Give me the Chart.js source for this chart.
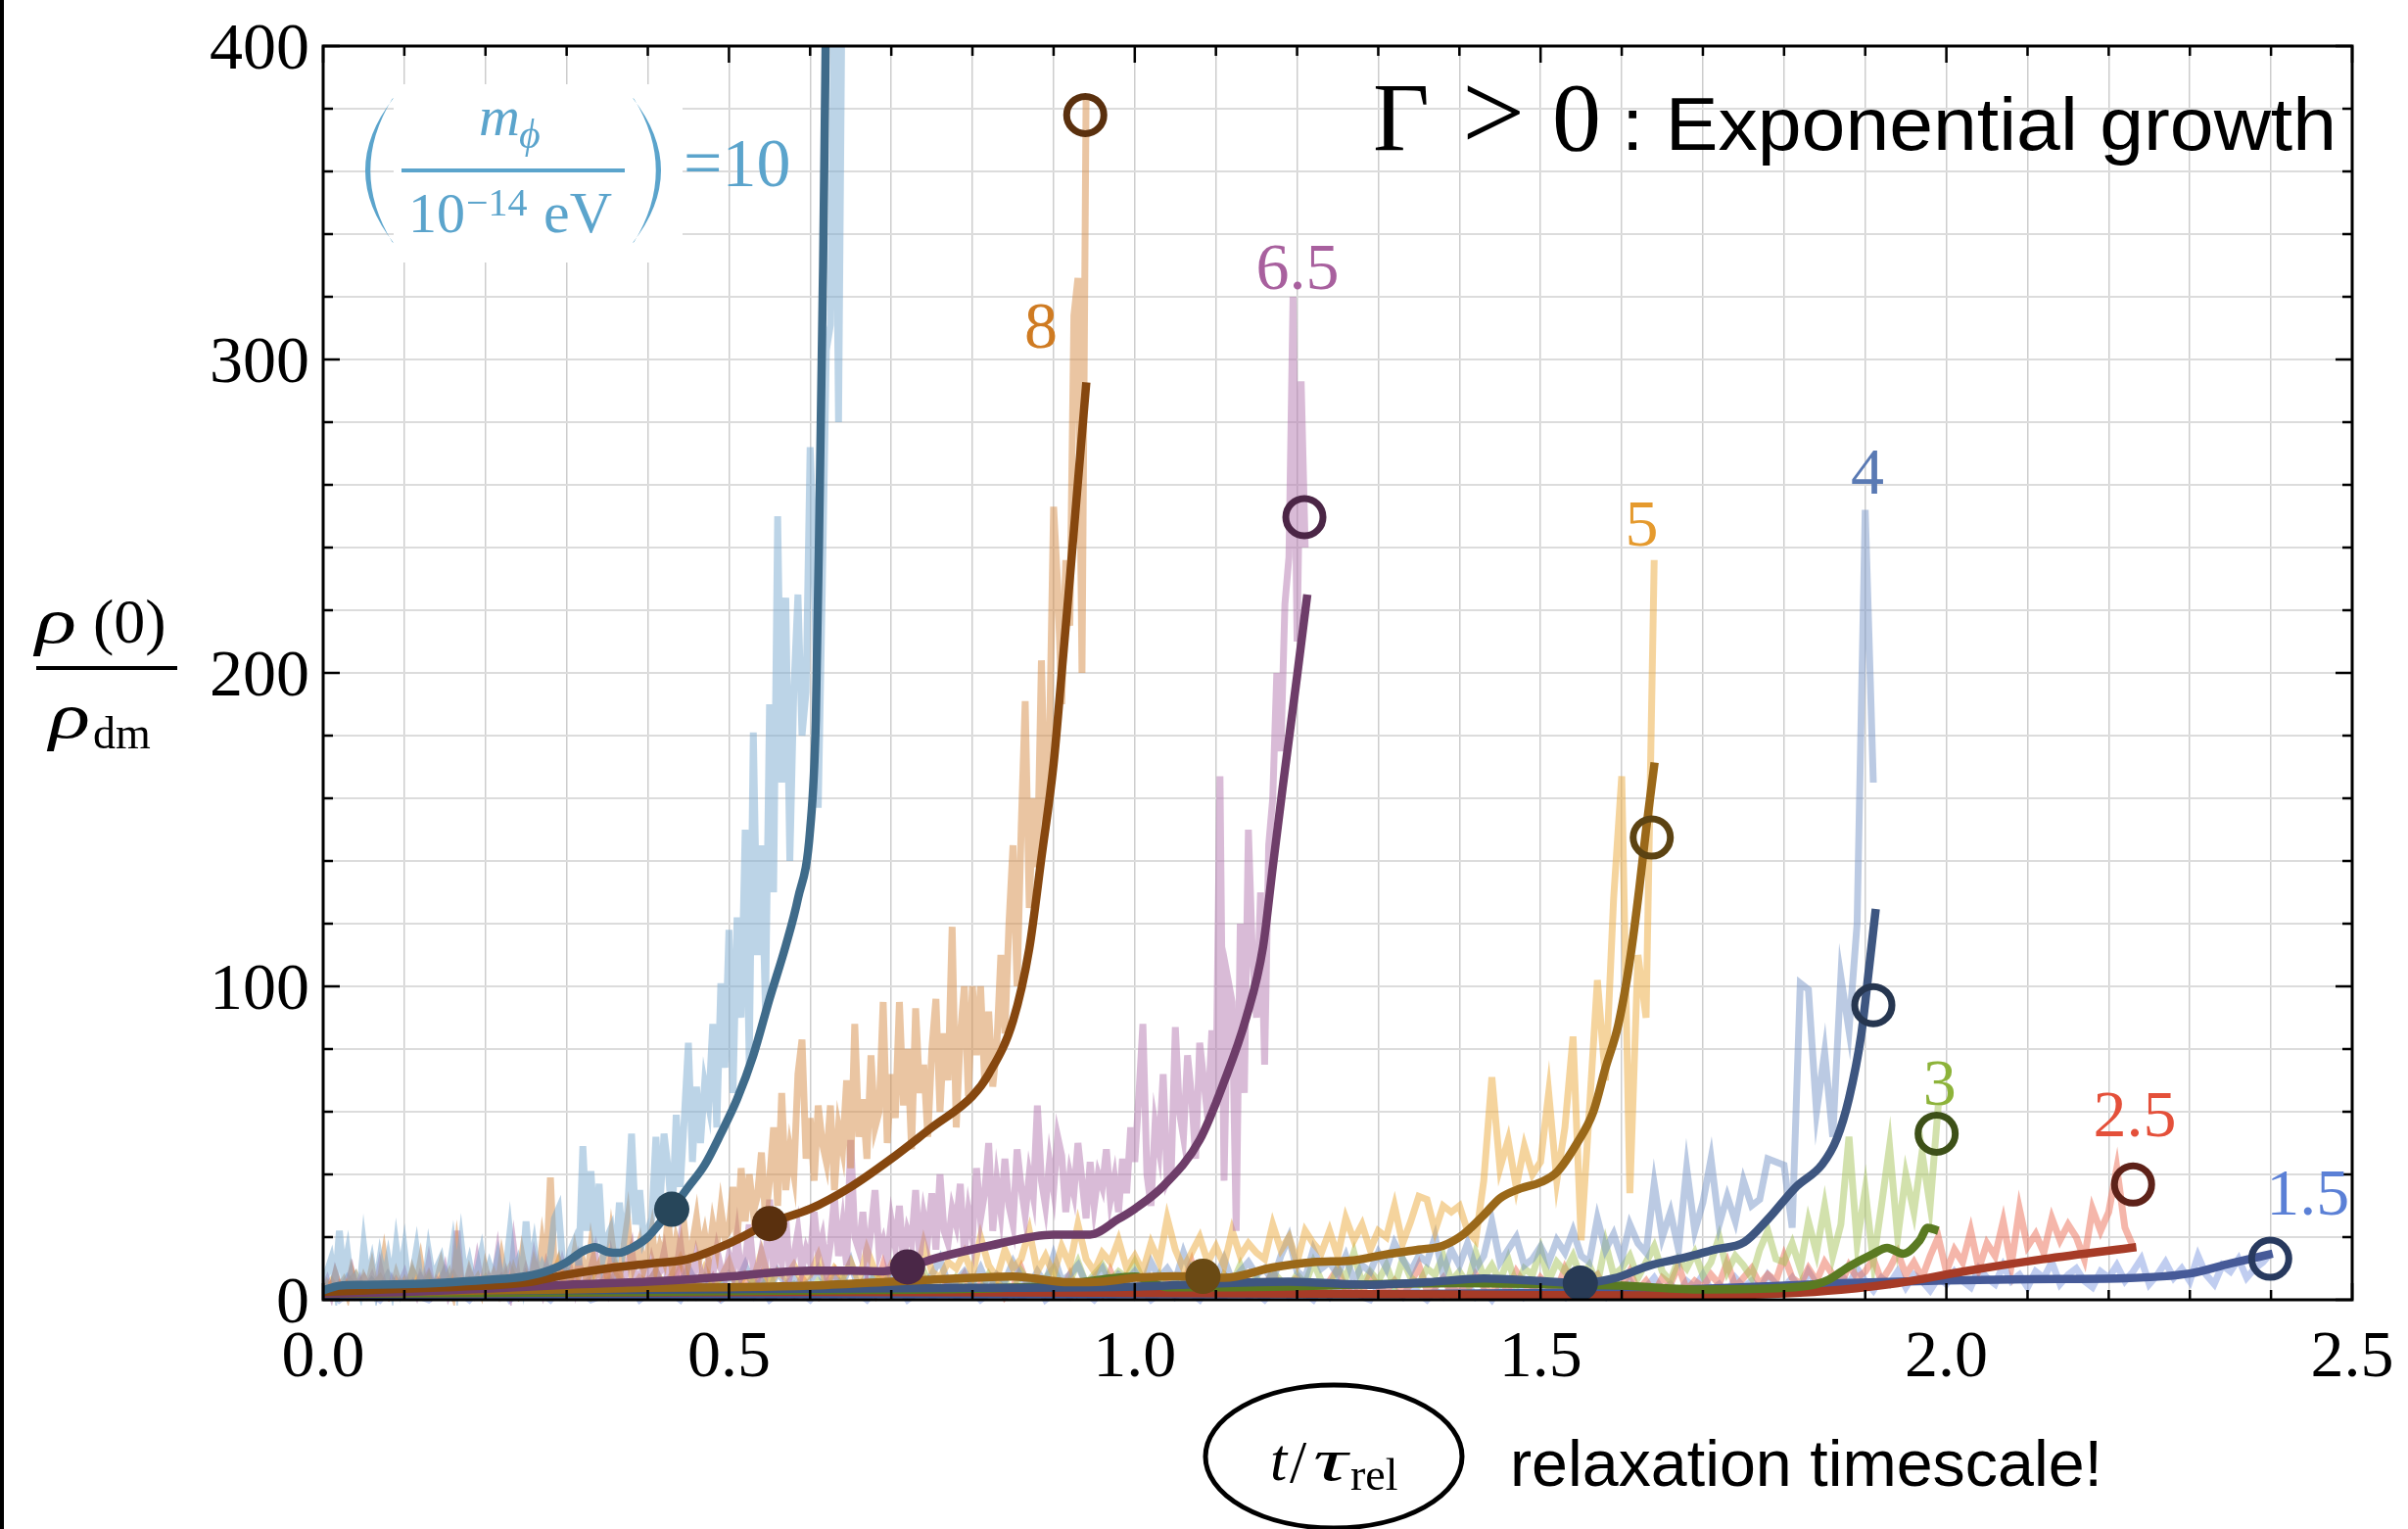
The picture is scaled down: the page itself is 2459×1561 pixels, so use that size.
<!DOCTYPE html>
<html>
<head>
<meta charset="utf-8">
<script src="https://cdn.jsdelivr.net/npm/chart.js@4.4.1/dist/chart.umd.min.js"></script>
<style>
  html, body { margin: 0; padding: 0; background: #fff; }
  #wrap { position: relative; width: 2459px; height: 1561px; overflow: hidden; background: #fff; }
  #c { position: absolute; left: 0; top: 0; }
  #edge { position: absolute; left: 0; top: 0; width: 4px; height: 1561px; background: #000; }
</style>
</head>
<body>
<div id="wrap">
  <canvas id="c" width="2459" height="1561"></canvas>
  <div id="edge"></div>
</div>
<script>
// ---------------------------------------------------------------
// Central density rho(0)/rho_dm versus t/tau_rel for several
// scalar masses (in units of 1e-14 eV).  Each mass has a noisy
// simulation trace and a smoothed trace.
// ---------------------------------------------------------------

const masses = ['10', '8', '6.5', '5', '4', '3', '2.5', '1.5'];

// time step of the simulation traces
const STEP_FINE = 0.005;
const STEP = 0.01;

// noisy traces (value at t = i * step)
const raw10 = [
  3,9,13,5,22,8,15,4,7,3,
  17,6,12,4,13,6,13,5,17,7,
  16,5,8,16,6,4,15,7,10,13,
  5,8,17,6,18,7,12,5,9,15,
  6,11,7,13,5,9,21,8,12,6,
  25,9,17,7,11,8,14,26,29,12,
  10,16,19,11,49,22,41,18,37,14,
  20,23,12,31,18,28,53,24,35,19,
  22,26,52,30,53,42,25,59,36,58,
  82,44,68,50,69,62,88,55,101,74,
  118,66,122,90,150,75,181,110,145,92,
  190,130,250,165,224,140,195,225,180,194,
  272,240,157,227,303,311,420,280,440
];
const raw8 = [
  2,5,3,8,4,6,2,9,5,3,7,4,10,3,6,14,5,3,8,4,
  6,3,9,5,12,4,7,3,6,11,5,8,3,16,6,4,9,5,7,3,
  10,5,8,4,13,6,3,9,5,14,7,4,11,6,18,9,39,8,12,6,
  10,7,15,8,12,6,17,9,11,14,8,20,10,7,16,25,9,13,18,10,
  15,22,11,17,13,26,10,19,14,23,12,18,26,15,21,13,24,17,29,20,
  22,36,18,42,25,40,28,33,47,26,38,55,30,66,35,48,40,72,83,45,
  58,38,62,50,44,62,35,55,48,70,42,88,52,64,45,78,55,60,95,50,
  72,58,95,62,80,48,93,66,75,52,80,96,60,85,70,119,55,84,100,65,
  100,78,100,70,92,68,81,110,85,120,145,100,150,191,125,160,138,204,150,180,
  253,228,190,236,215,314,326,200,383
];
const raw65 = [
  3,6,2,8,4,2,5,9,3,6,2,4,7,3,10,4,2,6,3,5,
  8,3,5,2,7,4,11,3,6,4,9,2,5,22,6,3,8,4,12,5,
  3,7,5,14,4,8,3,16,6,4,9,5,13,7,3,10,5,8,4,11,
  6,9,4,12,7,5,10,15,6,8,4,13,7,9,5,11,16,6,8,10,
  5,12,7,9,15,6,10,8,18,7,11,6,14,9,5,12,8,16,10,7,
  14,9,20,8,12,24,10,7,15,11,32,9,18,12,26,8,14,22,10,16,
  12,28,15,20,9,18,33,14,24,11,51,20,16,28,12,22,35,15,19,13,
  25,17,30,12,22,18,35,14,27,20,34,16,40,22,18,29,24,37,15,28,
  20,42,26,34,50,22,38,28,45,30,24,48,36,27,40,33,62,38,30,44,
  35,52,46,28,40,34,50,38,26,44,30,40,36,48,32,39,28,45,34,55,
  44,65,88,40,30,56,48,72,38,41,87,60,52,78,65,45,82,70,58,86,
  62,167,38,102,95,22,120,66,150,110,90,130,75,145,160,200,175,222,237,320,
  210,293,240
];
const raw5 = [
  3,6,2,5,8,3,4,7,2,5,3,9,4,6,2,5,8,3,6,4,
  7,3,5,10,4,6,3,8,5,12,4,7,3,6,9,4,11,5,3,7,
  5,9,4,8,13,6,4,10,5,7,12,4,8,6,15,5,9,7,11,6,
  8,14,5,10,7,12,6,16,9,5,11,8,13,6,18,9,7,12,10,15,
  8,20,11,7,16,10,13,22,9,14,8,17,11,24,13,9,15,12,19,10,
  14,9,18,12,26,16,10,15,20,12,17,11,22,14,18,15,13,24,16,20,
  12,22,18,15,22,14,26,19,24,16,22,20,30,18,25,33,32,22,30,28,
  30,22,19,38,71,42,51,36,49,40,44,66,38,55,84,19,60,102,70,128,
  167,34,110,90,236
];
const raw4 = [
  2,5,3,7,4,2,6,3,8,4,5,2,7,3,4,9,3,5,2,6,
  4,3,7,5,2,8,4,6,3,5,9,3,4,7,2,5,8,4,3,6,
  5,9,3,6,4,10,5,3,7,4,8,5,11,4,6,3,9,5,7,4,
  6,10,4,7,5,12,3,8,6,4,9,5,11,7,4,8,13,5,6,9,
  5,10,4,8,6,12,7,4,9,5,14,6,8,11,5,7,10,4,8,6,
  9,5,12,7,10,6,15,8,5,11,7,13,6,9,12,8,10,6,14,20,
  9,7,16,10,12,8,14,6,11,9,15,10,18,13,9,14,12,20,8,16,
  11,18,10,14,25,12,16,20,11,13,17,12,19,15,22,14,12,26,16,21,
  13,24,18,15,37,20,28,16,42,22,31,45,24,33,25,38,30,32,45,44,
  43,23,101,99,60,79,52,103,86,120,252,165
];
const raw3 = [
  2,4,1,5,3,2,6,3,1,4,2,5,3,7,2,4,1,3,5,2,
  4,2,6,3,1,5,3,2,7,4,2,3,5,1,4,6,2,3,4,2,
  5,3,2,6,4,1,3,7,2,5,3,4,2,6,3,8,2,4,5,3,
  2,6,4,3,7,2,5,3,8,4,2,6,3,5,9,3,4,2,7,4,
  5,3,8,4,6,2,9,5,3,7,10,4,6,12,5,8,11,6,9,7,
  12,6,4,8,3,7,5,10,4,6,3,8,5,11,4,7,3,9,6,4,
  8,5,12,6,4,10,7,15,5,9,6,11,4,13,7,5,10,8,14,6,
  9,5,15,7,11,6,13,4,10,8,16,6,12,9,14,7,11,5,18,8,
  10,14,7,12,17,9,6,13,10,15,8,12,20,9,14,11,7,16,22,13,
  12,18,10,25,15,30,14,24,52,18,35,12,30,49,20,40,28,47,30,62
];
const raw25 = [
  3,1,5,2,4,7,2,3,1,6,2,4,3,8,2,5,1,3,6,2,
  4,2,7,3,1,5,2,4,9,3,2,6,3,1,4,8,2,5,3,2,
  6,3,2,4,10,2,5,3,7,1,4,2,6,3,8,2,4,5,2,7,
  3,1,5,9,2,4,3,6,2,11,3,5,2,4,7,3,2,6,4,8,
  2,5,3,7,1,4,10,3,6,2,5,3,8,2,4,6,2,9,3,5,
  2,7,4,3,6,2,5,12,3,4,2,8,5,3,6,2,4,9,3,5,
  7,2,4,3,6,10,3,5,2,8,4,3,6,2,5,11,3,4,7,2,
  5,3,8,4,2,6,3,9,5,2,7,4,3,10,5,2,6,8,3,5,
  4,9,3,6,2,7,5,11,3,6,4,8,5,12,4,7,10,5,8,6,
  14,7,5,10,6,12,8,5,11,7,9,13,6,10,15,8,12,7,14,20,
  9,16,12,22,10,18,14,25,11,29,17,21,15,26,19,24,20,13,29,22,
  28,42,23,17
];
const raw15 = [
  1,3,0,2,4,1,2,0,3,1,2,4,1,0,2,3,1,2,0,3,
  2,1,4,0,2,3,1,2,0,3,1,4,2,0,1,3,2,1,4,0,
  2,3,1,2,0,4,1,3,2,0,2,1,3,1,4,0,2,3,1,2,
  0,3,2,1,4,1,2,0,3,2,1,4,0,2,3,1,2,5,1,2,
  3,0,2,4,1,3,1,2,5,0,2,3,1,4,2,0,3,1,2,4,
  1,3,0,2,5,1,3,2,0,4,2,1,3,5,1,2,0,3,4,1,
  3,2,0,4,1,5,2,3,1,0,4,2,3,1,5,2,0,3,1,4,
  2,5,1,3,0,4,2,6,1,3,2,5,3,1,6,2,4,3,1,5,
  3,6,2,4,7,3,5,2,6,4,8,3,5,2,7,4,6,3,8,5,
  4,7,3,9,5,6,4,8,5,10,6,3,7,5,9,4,8,6,3,7,
  5,9,6,4,10,7,5,11,6,8,4,9,7,12,5,8,10,6,4,9,
  7,11,6,9,13,5,8,12,7,10,6,14,8,5,11,9,13,7,10,12,15
];

// smoothed traces: times and values
const fit10T = [0,0.02,0.05,0.1,0.15,0.2,0.25,0.28,0.3,0.32,0.335,0.35,0.365,0.38,0.4,0.415,0.43,0.45,0.47,0.49,0.51,0.53,0.55,0.57,0.585,0.6,0.607,0.612,0.616,0.62];
const fit10V = [3,4.5,4.8,5,5.5,6.3,7.5,9.5,12,15.5,16.8,15.3,15,16.5,20,24.5,29,36,43,53,64,78,96,113,128,150,185,260,330,420];
const fit8T  = [0,0.05,0.1,0.15,0.2,0.25,0.3,0.35,0.4,0.45,0.5,0.55,0.6,0.65,0.7,0.75,0.8,0.82,0.85,0.87,0.885,0.9,0.91,0.92,0.93,0.9403];
const fit8V  = [2.5,3,3.5,4,4.5,5.5,8,10,11.5,13,18,24.5,29,36,45,55,65,72,89,112,141,171,200,230,261,292.7];
const fit65T = [0,0.1,0.2,0.3,0.4,0.5,0.55,0.6,0.65,0.69,0.72,0.76,0.82,0.9,0.945,0.98,1.0,1.036,1.08,1.11,1.137,1.158,1.17,1.182,1.2,1.2126];
const fit65V = [2,2.5,3.5,4.8,5.8,7.4,8.6,9.3,9.3,9.1,10.5,13.6,17.2,20.8,20.8,25.8,29,36.5,51,69.5,89.7,112.5,138,163,199,225];
const fit5T  = [0,0.1,0.2,0.3,0.4,0.5,0.6,0.7,0.8,0.85,0.92,0.96,1.0,1.05,1.085,1.11,1.17,1.22,1.27,1.31,1.35,1.38,1.405,1.43,1.45,1.475,1.5,1.52,1.545,1.565,1.58,1.596,1.611,1.622,1.63,1.6405];
const fit5V  = [2,2.5,3,3.3,3.8,4,4.5,5.8,7,7.4,5.6,5.8,7,7.5,7.4,7,10.3,12,12.6,14.5,16,17.3,20.9,27,32.4,35.5,37.5,40.7,50,60,74,88,110,132,150,171.4];
const fit4T  = [0,0.2,0.4,0.6,0.8,1.0,1.1,1.19,1.29,1.36,1.43,1.5,1.548,1.59,1.635,1.68,1.714,1.751,1.78,1.814,1.847,1.865,1.88,1.895,1.905,1.913];
const fit4V  = [3,3,3.2,3.5,3.8,4.2,5.2,5.8,4.8,5.6,6.8,6,5.3,6.8,11,13.6,16,18.4,25.7,35.8,43.2,51.4,64.2,84.4,106.4,124.7];
const fit3T  = [0,0.2,0.4,0.6,0.8,0.9,0.96,1.0,1.04,1.1,1.2,1.3,1.4,1.5,1.6,1.7,1.8,1.84,1.855,1.88,1.91,1.927,1.947,1.967,1.977,1.99];
const fit3V  = [2,2.2,2.5,3,3.5,4.5,6.5,7.4,4,4,4.3,5,5.3,5,4.5,3.3,3.8,5,6.4,10.6,14.7,16.6,14.7,18.9,23,22];
const fit25T = [0,0.3,0.6,1.0,1.3,1.5,1.7,1.8,1.87,1.94,2.02,2.12,2.234];
const fit25V = [2,2.3,2.5,2.2,1.8,1.5,1.3,2,3.2,5.3,9,13,16.8];
const fit15T = [0,0.3,0.6,1.0,1.3,1.5,1.7,1.87,2.0,2.1,2.22,2.3,2.35,2.402];
const fit15V = [1.5,1.6,1.7,1.7,1.8,2.2,3.5,5.3,6.2,6.6,6.9,8.4,11.6,14.7];

const rawValues = [raw10, raw8, raw65, raw5, raw4, raw3, raw25, raw15];
const rawSteps  = [STEP_FINE, STEP_FINE, STEP_FINE, STEP, STEP, STEP, STEP, STEP];
const fitTimes  = [fit10T, fit8T, fit65T, fit5T, fit4T, fit3T, fit25T, fit15T];
const fitValues = [fit10V, fit8V, fit65V, fit5V, fit4V, fit3V, fit25V, fit15V];

// onset of growth (filled dots)
const onsetMass = ['10', '8', '6.5', '5', '4'];
const onsetT = [0.4295, 0.550, 0.720, 1.084, 1.549];
const onsetV = [28.9, 24.3, 10.5, 7.5, 5.3];

// end of each run (open circles)
const endMass = ['8', '6.5', '5', '4', '3', '2.5', '1.5'];
const endT = [0.939, 1.209, 1.637, 1.910, 1.988, 2.230, 2.399];
const endV = [378, 249.7, 147.5, 94, 53, 36.8, 13.1];

// mass labels placed next to each run
const labelT = [0.8844, 1.2005, 1.6245, 1.9027, 1.9918, 2.2321, 2.4455];
const labelV = [310.9, 329.7, 247.8, 264.5, 69.4, 59.4, 34.4];

// axis tick labels
const xTickLabels = [0, 0.5, 1.0, 1.5, 2.0, 2.5];
const yTickLabels = [0, 100, 200, 300, 400];

// ---------------------------------------------------------------
const palette = {
  '10':  { raw: 'rgba(122,170,208,0.5)', fit: '#3f6b8a', dot: '#27465a', label: '#5ba4cc' },
  '8':   { raw: 'rgba(214,140,70,0.5)',  fit: '#86470f', dot: '#5a300e', ring: '#5a300e', label: '#cf7b22' },
  '6.5': { raw: 'rgba(180,120,175,0.5)', fit: '#6e3d69', dot: '#4a2747', ring: '#4b2646', label: '#a8609e' },
  '5':   { raw: 'rgba(236,170,60,0.5)',  fit: '#9a6819', dot: '#6a4a14', ring: '#5c4312', label: '#e59a2e' },
  '4':   { raw: 'rgba(120,150,200,0.5)', fit: '#3e5680', dot: '#283a55', ring: '#263650', label: '#5a7ab4' },
  '3':   { raw: 'rgba(165,195,90,0.5)',  fit: '#5a7a22', ring: '#3d5018', label: '#8db33a' },
  '2.5': { raw: 'rgba(235,110,85,0.5)',  fit: '#a63b27', ring: '#5e2219', label: '#e4503a' },
  '1.5': { raw: 'rgba(130,155,225,0.5)', fit: '#465a98', ring: '#283a5f', label: '#5b80d6' }
};

const SERIF = '"Liberation Serif", "Times New Roman", "DejaVu Serif", serif';
const SANS = '"Liberation Sans", Arial, Helvetica, sans-serif';

const datasets = [];

// markers (drawn on top)
datasets.push({
  data: onsetT.map((t, i) => ({ x: t, y: onsetV[i] })),
  showLine: false,
  pointRadius: 18,
  pointBorderWidth: 0,
  pointBackgroundColor: onsetMass.map(m => palette[m].dot),
  pointBorderColor: onsetMass.map(m => palette[m].dot),
  order: 0
});
datasets.push({
  data: endT.map((t, i) => ({ x: t, y: endV[i] })),
  showLine: false,
  pointRadius: 19,
  pointBorderWidth: 7,
  pointBackgroundColor: 'rgba(0,0,0,0)',
  pointBorderColor: endMass.map(m => palette[m].ring),
  order: 0
});

// smoothed traces
masses.forEach((m, k) => {
  datasets.push({
    data: fitTimes[k].map((t, i) => ({ x: t, y: fitValues[k][i] })),
    showLine: true,
    borderColor: palette[m].fit,
    borderWidth: 8.5,
    pointRadius: 0,
    cubicInterpolationMode: 'monotone',
    borderCapStyle: 'butt',
    clip: { left: 0, top: 0, right: 0, bottom: 6 },
    order: 1
  });
});

// noisy traces
masses.forEach((m, k) => {
  const step = rawSteps[k];
  datasets.push({
    data: rawValues[k].map((v, i) => ({ x: +(i * step).toFixed(4), y: v })),
    showLine: true,
    borderColor: palette[m].raw,
    borderWidth: 7,
    pointRadius: 0,
    tension: 0,
    borderJoinStyle: 'miter',
    clip: { left: 0, top: 0, right: 0, bottom: 6 },
    order: 2
  });
});

// ---------------------------------------------------------------
// white panel behind the mass legend
const legendPanel = {
  id: 'legendPanel',
  beforeDatasetsDraw(chart) {
    const ctx = chart.ctx;
    ctx.save();
    ctx.fillStyle = '#ffffff';
    ctx.fillRect(402, 86, 295, 182);
    ctx.restore();
  }
};

// frame with inward ticks on all four sides
const frame = {
  id: 'frame',
  afterDatasetsDraw(chart) {
    const ctx = chart.ctx;
    const a = chart.chartArea;
    const xs = chart.scales.x, ys = chart.scales.y;
    ctx.save();
    ctx.strokeStyle = '#000';
    ctx.lineWidth = 2.5;
    ctx.beginPath();
    xs.ticks.forEach(tk => {
      const v = tk.value;
      const px = xs.getPixelForValue(v);
      const major = Math.abs(v / 0.5 - Math.round(v / 0.5)) < 1e-6;
      const len = major ? 17 : 10;
      ctx.moveTo(px, a.bottom); ctx.lineTo(px, a.bottom - len);
      ctx.moveTo(px, a.top); ctx.lineTo(px, a.top + len);
    });
    ys.ticks.forEach(tk => {
      const v = tk.value;
      const py = ys.getPixelForValue(v);
      const major = Math.abs(v / 100 - Math.round(v / 100)) < 1e-6;
      const len = major ? 17 : 10;
      ctx.moveTo(a.left, py); ctx.lineTo(a.left + len, py);
      ctx.moveTo(a.right, py); ctx.lineTo(a.right - len, py);
    });
    ctx.stroke();
    ctx.lineWidth = 3;
    ctx.strokeRect(a.left, a.top, a.right - a.left, a.bottom - a.top);
    ctx.restore();
  }
};

function drawParen(ctx, xEnd, xOuter, yTop, yBot, thick) {
  const mid = (yTop + yBot) / 2;
  const dir = xOuter < xEnd ? 1 : -1;
  const c1 = 2 * xOuter - xEnd;
  const c2 = 2 * (xOuter + dir * thick) - xEnd;
  ctx.beginPath();
  ctx.moveTo(xEnd, yTop);
  ctx.quadraticCurveTo(c1, mid, xEnd, yBot);
  ctx.lineTo(xEnd - dir * 1.5, yBot - 1);
  ctx.quadraticCurveTo(c2, mid, xEnd - dir * 1.5, yTop + 1);
  ctx.closePath();
  ctx.fill();
}

// draws a string squeezed or stretched horizontally to a given width
function fitText(ctx, s, x, y, font, width) {
  ctx.font = font;
  const w = ctx.measureText(s).width;
  ctx.save();
  ctx.translate(x, y);
  ctx.scale(width / w, 1);
  ctx.fillText(s, 0, 0);
  ctx.restore();
}

// all text: tick labels, axis titles, legend, mass labels, headline
const annotations = {
  id: 'annotations',
  afterDraw(chart) {
    const ctx = chart.ctx;
    const a = chart.chartArea;
    const xs = chart.scales.x, ys = chart.scales.y;
    ctx.save();
    ctx.textBaseline = 'alphabetic';
    ctx.textAlign = 'left';

    // tick labels
    ctx.fillStyle = '#000';
    ctx.font = '68px ' + SERIF;
    ctx.textAlign = 'center';
    xTickLabels.forEach(t => ctx.fillText(t.toFixed(1), xs.getPixelForValue(t), a.bottom + 78));
    ctx.textAlign = 'right';
    yTickLabels.forEach(v => ctx.fillText(String(v), a.left - 14, ys.getPixelForValue(v) + 23));

    // y axis title: rho(0) / rho_dm
    ctx.textAlign = 'left';
    fitText(ctx, '\u03C1', 36, 656, 'italic 66px ' + SERIF, 42);
    ctx.font = '64px ' + SERIF;
    ctx.fillText('(0)', 95, 656);
    ctx.fillRect(37, 680, 144, 4);
    fitText(ctx, '\u03C1', 50, 753, 'italic 66px ' + SERIF, 42);
    ctx.font = '46px ' + SERIF;
    ctx.fillText('dm', 95, 764);

    // x axis title: t / tau_rel inside an ellipse
    ctx.lineWidth = 5;
    ctx.strokeStyle = '#000';
    ctx.beginPath();
    ctx.ellipse(1362, 1487, 131, 73, 0, 0, Math.PI * 2);
    ctx.stroke();
    ctx.font = 'italic 62px ' + SERIF;
    ctx.fillText('t', 1297, 1511);
    ctx.font = '62px ' + SERIF;
    ctx.fillText('/', 1317, 1513);
    fitText(ctx, '\u03C4', 1341, 1511, 'italic 62px ' + SERIF, 35);
    ctx.font = '46px ' + SERIF;
    ctx.fillText('rel', 1379, 1521);
    fitText(ctx, 'relaxation timescale!', 1542, 1517, '66px ' + SANS, 605);

    // headline
    ctx.font = '100px ' + SERIF;
    ctx.fillText('\u0393', 1402, 153);
    ctx.font = '114px ' + SERIF;
    ctx.fillText('>', 1493, 153);
    ctx.font = '100px ' + SERIF;
    ctx.fillText('0', 1585, 153);
    fitText(ctx, ': Exponential growth', 1656, 153, '76px ' + SANS, 730);

    // mass legend (m_phi / 1e-14 eV) = 10
    const lc = palette['10'].label;
    ctx.fillStyle = lc;
    drawParen(ctx, 402, 373, 100, 248, 6);
    drawParen(ctx, 646, 675, 100, 248, 6);
    ctx.font = 'italic 58px ' + SERIF;
    ctx.fillText('m', 489, 138);
    ctx.font = 'italic 42px ' + SERIF;
    ctx.fillText('\u03D5', 530, 151);
    ctx.fillRect(410, 172, 228, 4);
    ctx.font = '58px ' + SERIF;
    ctx.fillText('10', 417, 237);
    ctx.font = '40px ' + SERIF;
    ctx.fillText('\u221214', 476, 220);
    ctx.font = '60px ' + SERIF;
    ctx.fillText('eV', 555, 237);
    ctx.font = '70px ' + SERIF;
    ctx.fillText('=10', 698, 190);

    // mass labels next to each run
    ctx.font = '68px ' + SERIF;
    ctx.textAlign = 'center';
    endMass.forEach((m, i) => {
      ctx.fillStyle = palette[m].label;
      ctx.fillText(m, xs.getPixelForValue(labelT[i]), ys.getPixelForValue(labelV[i]) + 23);
    });
    ctx.restore();
  }
};

Chart.defaults.font.family = SERIF;

new Chart(document.getElementById('c'), {
  type: 'scatter',
  data: { datasets },
  options: {
    responsive: false,
    animation: false,
    devicePixelRatio: 1,
    events: [],
    layout: { padding: { top: 47, right: 57, left: 0, bottom: 0 } },
    plugins: { legend: { display: false }, tooltip: { enabled: false } },
    scales: {
      x: {
        type: 'linear', min: 0, max: 2.5,
        ticks: { display: false, stepSize: 0.1, autoSkip: false },
        grid: { color: '#cdcdcd', lineWidth: 1.5, drawTicks: false },
        border: { display: false },
        afterFit(s) { s.height = 234; }
      },
      y: {
        type: 'linear', min: 0, max: 400,
        ticks: { display: false, stepSize: 20, autoSkip: false },
        grid: { color: '#dcdcdc', lineWidth: 2, drawTicks: false },
        border: { display: false },
        afterFit(s) { s.width = 330; }
      }
    }
  },
  plugins: [legendPanel, frame, annotations]
});
</script>
</body>
</html>
